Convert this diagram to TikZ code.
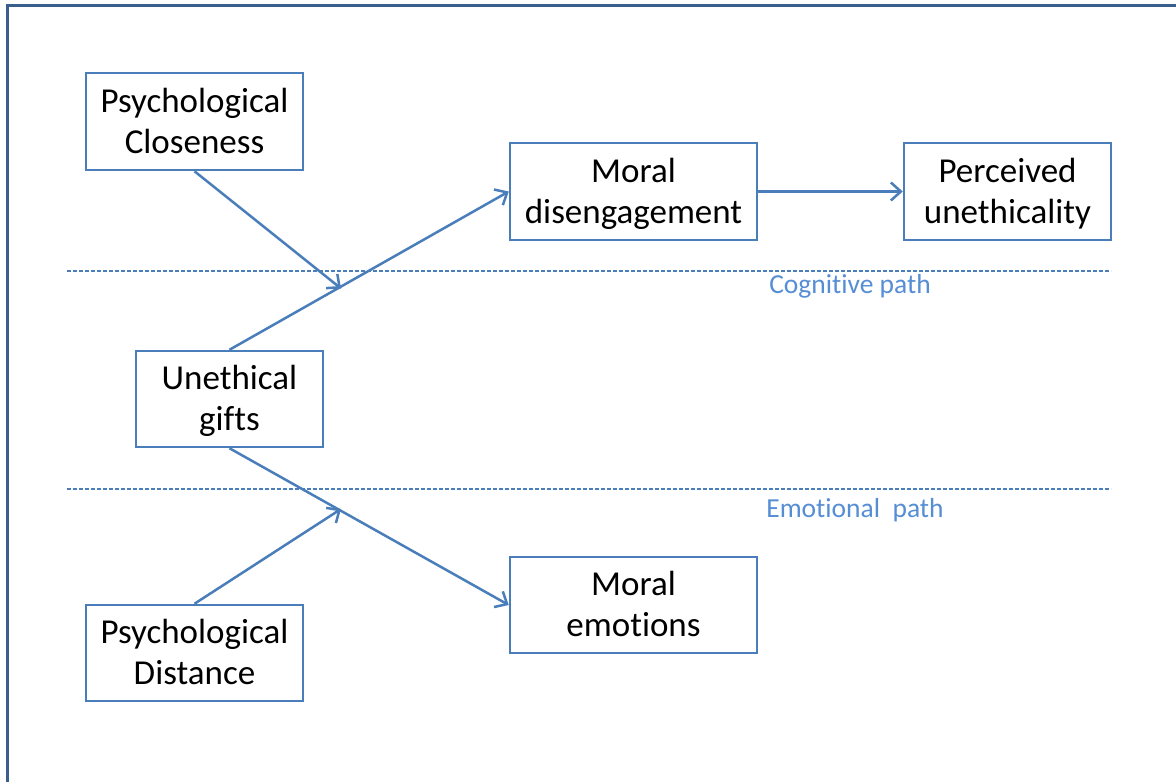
\documentclass[tikz,border=0pt]{standalone}
\usepackage{fontspec}
\setmainfont[RawFeature=-liga]{Carlito}
\usetikzlibrary{arrows.meta}
\definecolor{lineblue}{HTML}{4A7EBB}
\definecolor{frameblue}{HTML}{3B5F8C}
\definecolor{labelblue}{HTML}{558ED5}
\newcommand\twolines[2]{\rule{0pt}{31pt}#1\\#2\rule[-9pt]{0pt}{9pt}}
\tikzset{
  box/.style={draw=lineblue, line width=2.5pt, align=center, inner sep=0pt,
    font=\fontsize{35}{41}\selectfont, text=black},
  conn/.style={draw=lineblue, line width=2.5pt,
    -{Straight Barb[length=10pt,width=18pt,line width=2.5pt]}},
  pathline/.style={draw=lineblue, line width=1.3pt, dash pattern=on 4pt off 2pt},
  pathlabel/.style={text=labelblue, font=\fontsize{27.5}{30}\selectfont, inner sep=0pt}
}
\begin{document}
\begin{tikzpicture}[x=1pt,y=-1pt]
\useasboundingbox (0,0) rectangle (1176,782);
\clip (0,0) rectangle (1176,782);
\fill[white] (0,0) rectangle (1176,782);
\draw[frameblue, line width=3pt] (7.5,5.5) rectangle (1200,810);

\node[box, minimum width=217pt, minimum height=97pt] (close) at (194.5,121.5) {\twolines{Psychological}{Closeness}};
\node[box, minimum width=247pt, minimum height=97pt] (md) at (633.5,191.5) {\twolines{Moral}{disengagement}};
\node[box, minimum width=207pt, minimum height=97pt] (pu) at (1007.5,191.5) {\twolines{Perceived}{unethicality}};
\node[box, minimum width=187pt, minimum height=96pt] (ug) at (229.5,399) {\twolines{Unethical}{gifts}};
\node[box, minimum width=247pt, minimum height=96pt] (me) at (633.5,605) {\twolines{Moral}{emotions}};
\node[box, minimum width=217pt, minimum height=96pt] (dist) at (194.5,653) {\twolines{Psychological}{Distance}};

\coordinate (cl1) at (67,271);
\coordinate (cl2) at (1111,271);
\coordinate (el1) at (67,489);
\coordinate (el2) at (1111,489);
\draw[pathline] (cl1) -- (cl2);
\draw[pathline] (el1) -- (el2);
\node[pathlabel] (cog) at (850,286) {Cognitive path};
\node[pathlabel] (emo) at (855,510) {Emotional\ \ path};

\draw[conn] (ug.north) -- (md.west);
\draw[conn] (ug.south) -- (me.west);
\draw[conn] (md.east) -- (pu.west);
\coordinate (m1) at (341,288.5);
\coordinate (m2) at (341,509);
\draw[conn] (close.south) -- (m1);
\draw[conn] (dist.north) -- (m2);
\end{tikzpicture}
\end{document}
